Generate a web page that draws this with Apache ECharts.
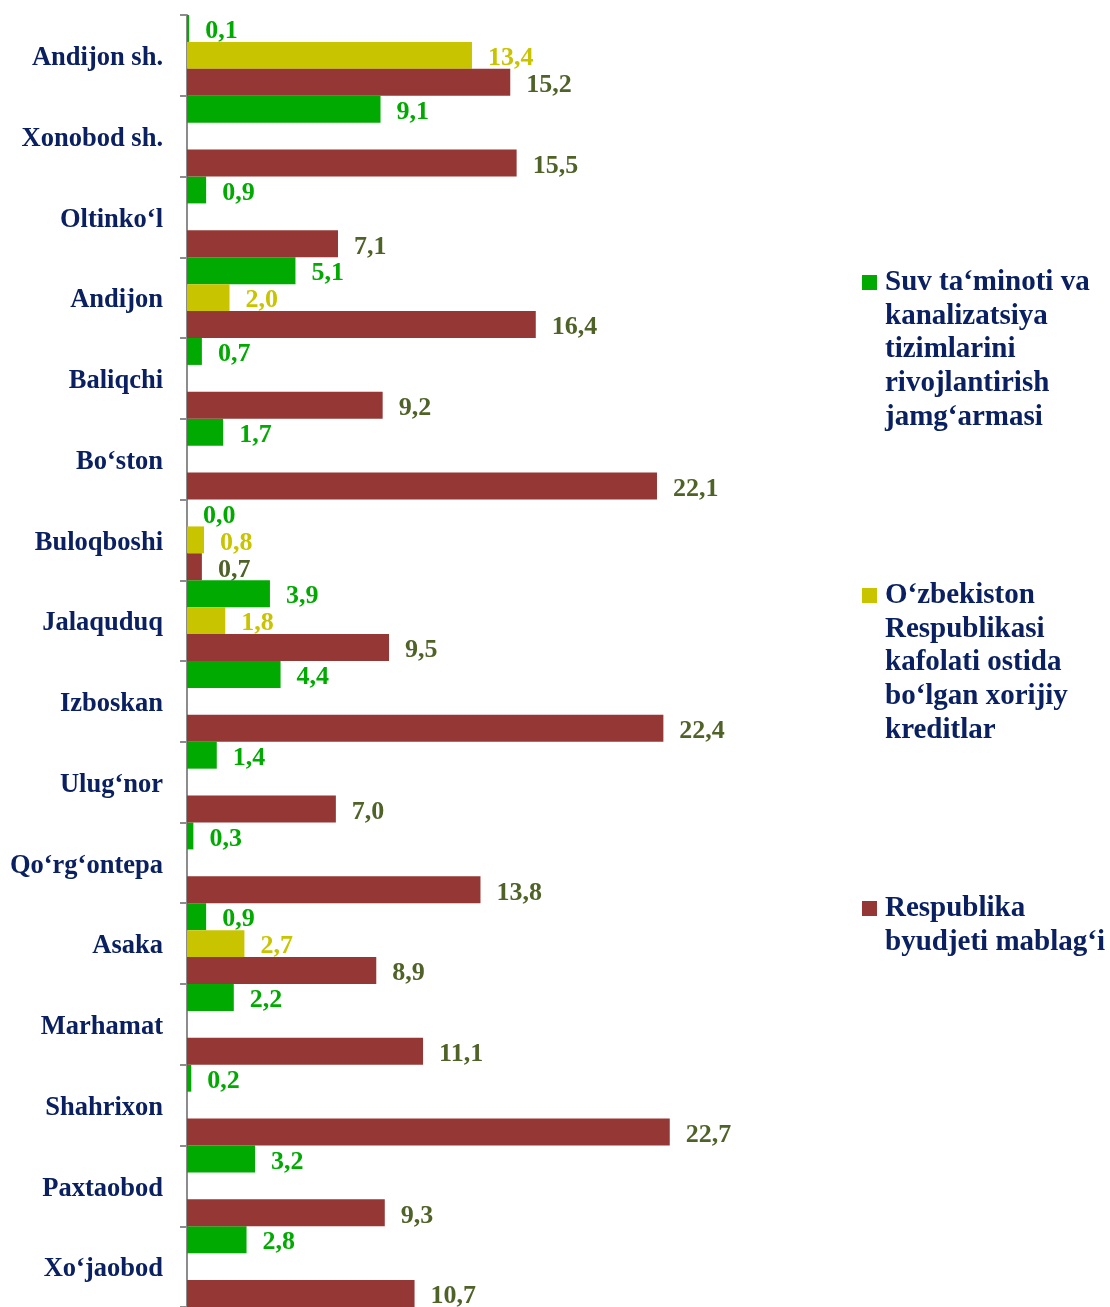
<!DOCTYPE html>
<html>
<head>
<meta charset="utf-8">
<script src="https://cdn.jsdelivr.net/npm/echarts@6/dist/echarts.min.js"></script>
<style>
  html, body { margin: 0; padding: 0; background: #fff; }
  #chart { width: 1110px; height: 1307px; }
</style>
</head>
<body>
<div id="chart"></div>
<script>
// tumanlar / shaharlar
const categories = [
  'Andijon sh.', 'Xonobod sh.', 'Oltinko‘l', 'Andijon', 'Baliqchi', 'Bo‘ston',
  'Buloqboshi', 'Jalaquduq', 'Izboskan', 'Ulug‘nor', 'Qo‘rg‘ontepa', 'Asaka',
  'Marhamat', 'Shahrixon', 'Paxtaobod', 'Xo‘jaobod'
]

const seriesNames = [
  'Suv ta‘minoti va kanalizatsiya tizimlarini rivojlantirish jamg‘armasi',
  'O‘zbekiston Respublikasi kafolati ostida bo‘lgan xorijiy kreditlar',
  'Respublika byudjeti mablag‘i'
]
// legenddagi qatorlar
const legendLines = [
  ['Suv ta‘minoti va', 'kanalizatsiya', 'tizimlarini', 'rivojlantirish', 'jamg‘armasi'],
  ['O‘zbekiston', 'Respublikasi', 'kafolati ostida', 'bo‘lgan xorijiy', 'kreditlar'],
  ['Respublika', 'byudjeti mablag‘i']
]

// '-' = ma'lumot yo'q (bar chizilmaydi)
const suvFond = [0.1, 9.1, 0.9, 5.1, 0.7, 1.7, 0.0, 3.9, 4.4, 1.4, 0.3, 0.9, 2.2, 0.2, 3.2, 2.8]
const xorijiyKredit = [13.4, '-', '-', 2.0, '-', '-', 0.8, 1.8, '-', '-', '-', 2.7, '-', '-', '-', '-']
const respByudjet = [15.2, 15.5, 7.1, 16.4, 9.2, 22.1, 0.7, 9.5, 22.4, 7.0, 13.8, 8.9, 11.1, 22.7, 9.3, 10.7]

const FONT = "'Times New Roman', 'Liberation Serif', serif"
const NAVY = '#0a2060'
const LINE_H = 33.75
const ICON = 15

function fmt(p) {
  return Number(p.value).toFixed(1).replace('.', ',')
}

function makeSeries(name, data, color, labelColor) {
  return {
    name: name,
    type: 'bar',
    data: data,
    barGap: '0%',
    barCategoryGap: '0%',
    itemStyle: { color: color },
    label: {
      show: true,
      position: 'right',
      distance: 16,
      formatter: fmt,
      color: labelColor,
      fontFamily: FONT,
      fontWeight: 'bold',
      fontSize: 26,
      // matnni ~3px pastga surish
      verticalAlign: 'top',
      lineHeight: 6,
    },
  }
}

// matn markazlashadi, shuning uchun birinchi qatorni belgi bilan tenglash uchun
// yuqoriga bo'sh qatorlar qo'shiladi
function makeLegend(idx, iconTop) {
  const lines = legendLines[idx]
  const n = lines.length
  const boxH = (2 * n - 1) * LINE_H
  const top = iconTop - (boxH / 2 - ICON / 2)
  return {
    data: [seriesNames[idx]],
    left: 862,
    top: top,
    padding: 0,
    orient: 'vertical',
    icon: 'rect',
    itemWidth: ICON,
    itemHeight: ICON,
    selectedMode: false,
    formatter: function () {
      return new Array(n).join('\n') + lines.join('\n')
    },
    textStyle: {
      color: NAVY,
      fontFamily: FONT,
      fontWeight: 'bold',
      fontSize: 29,
      lineHeight: LINE_H,
      padding: [0, 0, 0, 3],
    },
  }
}

const chart = echarts.init(document.getElementById('chart'))

chart.setOption({
  animation: false,
  grid: { left: 187, top: 15, width: 638, height: 1293 },
  xAxis: {
    type: 'value',
    min: 0,
    max: 30,
    show: false,
  },
  yAxis: {
    type: 'category',
    data: categories,
    inverse: true,
    axisLine: { show: true, lineStyle: { color: '#8c8c8c', width: 2 } },
    axisTick: { show: true, length: 7, lineStyle: { color: '#8c8c8c', width: 2 } },
    axisLabel: {
      margin: 24,
      color: NAVY,
      fontFamily: FONT,
      fontWeight: 'bold',
      fontSize: 26.5,
      verticalAlign: 'top',
      lineHeight: 6,
    },
  },
  legend: [
    makeLegend(0, 275),
    makeLegend(1, 588),
    makeLegend(2, 901),
  ],
  series: [
    makeSeries(seriesNames[0], suvFond, '#00aa00', '#00aa00'),
    makeSeries(seriesNames[1], xorijiyKredit, '#c9c400', '#c9c400'),
    makeSeries(seriesNames[2], respByudjet, '#953735', '#4f6228'),
  ],
})
</script>
</body>
</html>
